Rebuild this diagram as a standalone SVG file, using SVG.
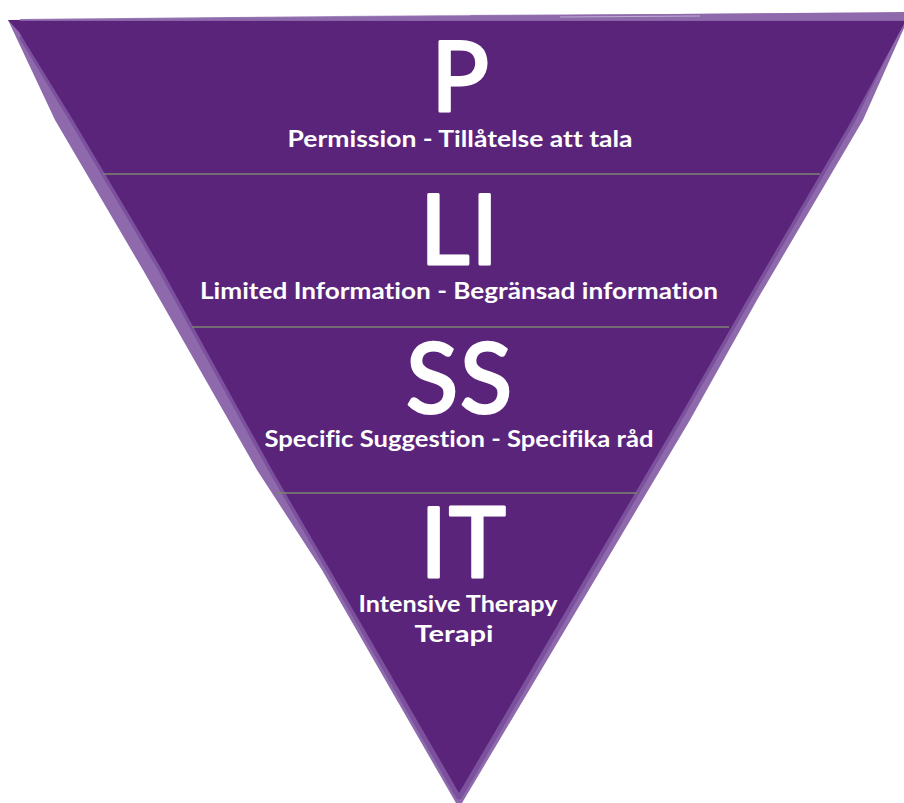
<svg xmlns="http://www.w3.org/2000/svg" width="904" height="803" viewBox="0 0 904 803">
  <style>
    .edge-light { fill: #8e6aad; }
    .edge-mid { fill: none; stroke: #7b519d; stroke-width: 7; stroke-linejoin: round; }
    .body { fill: #5b247b; }
    .divider { stroke: #7b8570; stroke-width: 1.6; fill: none; }
    .big { font-family: Lato, "Open Sans", sans-serif; font-weight: 400; font-size: 96px; fill: #ffffff; stroke: #ffffff; stroke-width: 3; stroke-linejoin: round; stroke-linecap: round; text-anchor: middle; letter-spacing: 2px; }
    .label { font-family: Lato, "Open Sans", sans-serif; font-weight: 700; font-size: 23px; fill: #ffffff; text-anchor: middle; font-variant-ligatures: none; font-feature-settings: "liga" 0; }
  </style>

  <!-- brushed triangle outline -->
  <g id="triangle">
    <polygon class="edge-light" points="8,20 904,12 904,28 863,120 757,300 690,420 462,803 456,803 322,570 257,470 143,270 55,120"/>
    <polyline class="edge-mid" points="896,30 852,120 747,300 678,420 459,796 330,570 272,470 162,270 73,120 22,36"/>
    <polygon class="body" points="8,20 904,20 904,24 852,120 747,300 678,420 459,793 330,570 272,470 162,270 73,120 19,32"/>
    <polygon fill="#8e6aad" points="20,19 440,15 904,13 904,21 20,21" opacity="0.9"/>
    <path d="M120,17 L470,15 M560,17 L700,16" stroke="#ffffff" stroke-width="1" opacity="0.45" fill="none"/>
  </g>

  <!-- tier dividers -->
  <g id="connectors">
    <line class="divider" x1="103" y1="174" x2="820" y2="174"/>
    <line class="divider" x1="192" y1="327" x2="729" y2="327"/>
    <line class="divider" x1="276" y1="493" x2="637" y2="493"/>
  </g>

  <g id="tier-p">
    <text class="big" x="461" y="111">P</text>
    <text class="label" x="460" y="147" textLength="345" lengthAdjust="spacingAndGlyphs">Permission - Tillåtelse att tala</text>
  </g>

  <g id="tier-li">
    <text class="big" x="460" y="264">LI</text>
    <text class="label" x="459" y="299" textLength="518" lengthAdjust="spacingAndGlyphs">Limited Information - Begränsad information</text>
  </g>

  <g id="tier-ss">
    <text class="big" x="460" y="413">SS</text>
    <text class="label" x="459" y="447" textLength="389" lengthAdjust="spacingAndGlyphs">Specific Suggestion - Specifika råd</text>
  </g>

  <g id="tier-it">
    <text class="big" x="464" y="577">IT</text>
    <text class="label" x="458" y="612" textLength="199" lengthAdjust="spacingAndGlyphs">Intensive Therapy</text>
    <text class="label" x="454" y="642" textLength="79" lengthAdjust="spacingAndGlyphs">Terapi</text>
  </g>
</svg>
